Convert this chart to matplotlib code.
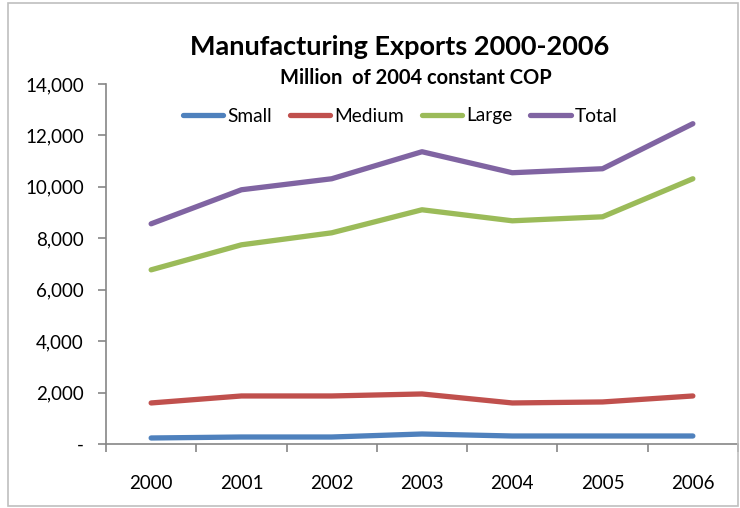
import matplotlib
matplotlib.use('Agg')
from matplotlib import pyplot as plt
from matplotlib.patches import Rectangle
from matplotlib.ticker import FuncFormatter

years = ['2000', '2001', '2002', '2003', '2004', '2005', '2006']
small = [234, 272, 272, 389, 311, 311, 311]
medium = [1596, 1868, 1868, 1946, 1596, 1635, 1868]
large = [6773, 7746, 8213, 9109, 8680, 8836, 10315]
total = [8563, 9887, 10315, 11366, 10549, 10705, 12456]

series = [
    ('Small', small, '#4F81BD'),
    ('Medium', medium, '#C0504D'),
    ('Large', large, '#9BBB59'),
    ('Total', total, '#8064A2'),
]

plt.rcParams['font.family'] = ['Lato', 'DejaVu Sans']
axis_gray = '#868686'


def thousands(v, pos):
    if v == 0:
        return '-'
    return '{:,.0f}'.format(v)


def main():
    fig = plt.figure(figsize=(7.4, 5.08), dpi=100)
    # chart area frame
    fig.patches.append(Rectangle((8 / 740, 2 / 508), 730 / 740, 503 / 508,
                                 transform=fig.transFigure, fill=False,
                                 edgecolor='#BFBFBF', linewidth=1.2))
    ax = fig.add_axes([106 / 740, 1 - 444 / 508, 632 / 740, 360 / 508])
    x = list(range(len(years)))
    for name, vals, color in series:
        ax.plot(x, vals, color=color, linewidth=3.8, label=name,
                solid_capstyle='round', solid_joinstyle='round')

    ax.set_xlim(-0.5, 6.5)
    ax.set_ylim(0, 14000)
    ax.set_yticks(range(0, 14001, 2000))
    ax.yaxis.set_major_formatter(FuncFormatter(thousands))
    ax.set_xticks(x)
    ax.set_xticklabels(years)
    ax.set_xticks([i - 0.5 for i in range(len(years) + 1)], minor=True)
    ax.tick_params(axis='x', which='major', length=0, pad=22, labelsize=13.5)
    ax.tick_params(axis='x', which='minor', length=6, width=1.2, color=axis_gray)
    ax.tick_params(axis='y', length=6, width=1.2, color=axis_gray, labelsize=13.5, pad=10)
    for side in ['top', 'right']:
        ax.spines[side].set_visible(False)
    for side in ['left', 'bottom']:
        ax.spines[side].set_color(axis_gray)
        ax.spines[side].set_linewidth(1.2)

    leg = ax.legend(loc='center', bbox_to_anchor=(400 / 740, 1 - 116 / 508),
                    bbox_transform=fig.transFigure, ncol=4, frameon=False,
                    fontsize=13.8, handlelength=2.1, handletextpad=0.2,
                    columnspacing=0.95)
    for line in leg.get_lines():
        line.set_linewidth(3.8)

    fig.text(400 / 740, 1 - 47 / 508, 'Manufacturing Exports 2000-2006',
             ha='center', va='center', fontsize=19.5, fontweight='bold')
    fig.text(416 / 740, 1 - 78 / 508, 'Million  of 2004 constant COP',
             ha='center', va='center', fontsize=14.5, fontweight='bold')

    plt.savefig('out.png', dpi=100)
    plt.close()


if __name__ == '__main__':
    main()
